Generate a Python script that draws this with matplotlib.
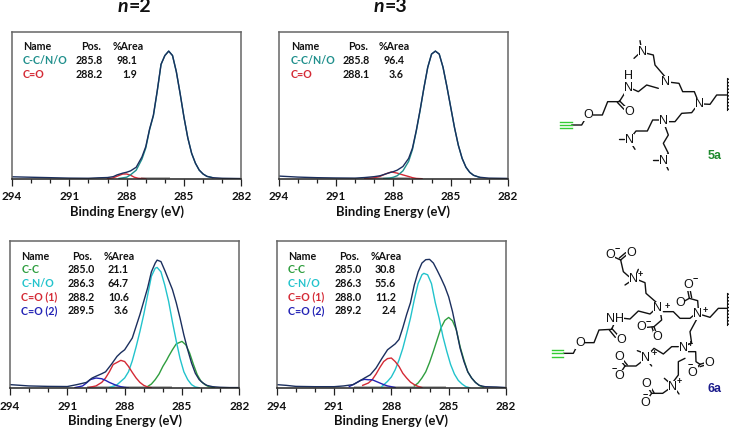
import matplotlib
matplotlib.use("Agg")
import matplotlib.pyplot as plt

plt.rcParams['font.family'] = ['Lato', 'DejaVu Sans']

W, H = 729, 429
GREEN, CYAN, RED, BLUE, TEAL = '#2f9e3f', '#22c3cc', '#d42a35', '#2323b5', '#1f8f8c'
TOTAL = '#1b2f5e'
GREY = '#b4b4b4'

# ---- n=2, top panel ----
a_total_x = [294,293,292,291,290,289.5,289,288.7,288.5,288.2,288,287.8,287.5,287.2,287,286.8,286.6,286.4,286.2,286,285.8,285.6,285.4,285.2,285,284.8,284.6,284.4,284.2,284,283.8,283.5,283,282.5,282]
a_total_y = [1.5,1.2,0.9,0.6,0.5,0.8,1,1.6,2.8,4,4.6,5.5,8,15,22,34,43.5,60,78,84,87,84,73,58,42,28,17.5,10.7,6,3.4,1.8,0.9,0.5,0.4,0.3]
a_main_x = [288.4,288,287.8,287.5,287.2,287,286.8,286.6,286.4,286.2,286,285.8,285.6,285.4,285.2,285,284.8,284.6,284.4,284.2,284,283.8,283.5]
a_main_y = [0.4,1.2,2.8,6,13.5,21,33.5,43,59.5,78,84,87,84,73,58,42,28,17.5,10.7,6,3.4,1.8,0.9]
a_co_x = [289,288.7,288.4,288.2,288,287.8,287.6,287.4,287]
a_co_y = [0.2,0.8,2.4,3.4,3.4,2.6,1.2,0.5,0.2]

# ---- n=3, top panel ----
b_total_x = [294,293,292,291,290,289.5,289,288.7,288.5,288.2,288,287.8,287.5,287.2,287,286.8,286.6,286.4,286.2,286,285.8,285.6,285.4,285.2,285,284.8,284.6,284.4,284.2,284,283.8,283.5,283,282.5,282]
b_total_y = [2,1.3,0.9,0.7,0.6,1,1.6,2.2,3,4.3,5,6,8.5,14,21,33,47,62,76,85,87,85,76,63,49,35,23,14,8,4.5,2.5,1.2,0.6,0.5,0.4]
b_main_x = [288.5,288.2,288,287.8,287.5,287.2,287,286.8,286.6,286.4,286.2,286,285.8,285.6,285.4,285.2,285,284.8,284.6,284.4,284.2,284,283.8,283.5]
b_main_y = [0.3,0.6,1.2,2.2,5.5,12,20,32.5,46.5,62,76,85,87,85,76,63,49,35,23,14,8,4.5,2.5,1.2]
b_co_x = [289.5,289,288.7,288.4,288.1,287.8,287.5,287.2,287,286.8,286.5]
b_co_y = [0.2,0.8,1.8,3.5,4.8,4,2.8,1.7,0.9,0.4,0.2]

# ---- n=2, bottom panel ----
c_total_x = [294,293,292,291,290.5,290,289.7,289.5,289.2,289,288.7,288.4,288.2,288,287.8,287.6,287.4,287.2,287,286.8,286.6,286.4,286.3,286.1,285.9,285.7,285.5,285.3,285.1,284.9,284.7,284.5,284.3,284.1,283.9,283.7,283.4,283,282.5,282]
c_total_y = [2.3,1.4,1.1,1,2.3,3.8,6.8,8,9.7,11,16,21.5,24,26,30,34,42,50,59,68,79,85,87,86,80,73.5,67,58,47.5,36,26,17,10,5.7,3.4,1.8,0.9,0.5,0.3,0.3]
c_cn_x = [288.8,288.4,288,287.8,287.6,287.4,287.2,287,286.8,286.6,286.4,286.3,286.1,285.9,285.7,285.5,285.3,285.1,284.9,284.7,284.5,284.3,284.1]
c_cn_y = [0.3,2.2,6.8,11,18.5,28,38.5,50,63,76,81.5,82,79,70,59,45,32,20,11,5.7,2.3,0.7,0.2]
c_cc_x = [286.8,286.6,286.4,286.2,286,285.8,285.7,285.5,285.3,285,284.8,284.6,284.4,284.2,284,283.8,283.6,283.3]
c_cc_y = [1,2.7,5.7,9.5,14.7,19,21.5,26,30,31.7,29.4,23.8,16,9,4.5,2.3,0.9,0.2]
c_co1_x = [289.9,289.5,289.2,289,288.8,288.6,288.4,288.2,288,287.8,287.6,287.4,287.2,287,286.8,286.6]
c_co1_y = [0.3,1.4,3.8,6.8,11,16,17.4,18.8,18,14.7,10.6,6.8,3.8,1.8,0.7,0.2]
c_co2_x = [290.6,290.2,290,289.8,289.5,289.2,289,288.8,288.6,288.4,288.2,288,287.8]
c_co2_y = [0.3,1.4,3.4,5.7,6.8,6.3,5.2,3.8,2.7,1.6,0.9,0.4,0.1]

# ---- n=3, bottom panel ----
d_total_x = [294,293.5,293,292,291,290.5,290,289.7,289.4,289.1,288.8,288.5,288.2,288,287.8,287.6,287.4,287.2,287,286.8,286.6,286.4,286.2,286,285.8,285.6,285.4,285.2,285,284.8,284.6,284.4,284.2,284,283.8,283.6,283.4,283.1,282.5,282]
d_total_y = [2.3,1.8,1.1,0.9,0.9,1.4,2.3,4.5,6.8,9,13.6,20,26,28,30,33,41,50,58,70,79,85,87.3,87.5,85,80,74.7,69,62,52,39.6,27,18,11,6.8,3.8,1.8,0.9,0.7,0.3]
d_cn_x = [288.5,288.2,288,287.8,287.6,287.4,287.2,287,286.8,286.6,286.4,286.3,286.1,285.9,285.7,285.5,285.3,285.1,284.9,284.7,284.5,284.3,284.1,283.9]
d_cn_y = [1,4.5,7.5,12.4,19,27,37,47.5,60,71,77,78,77,71,58,47.5,35,25,16,9.5,5.2,2.7,0.9,0.2]
d_cc_x = [286.8,286.6,286.4,286.2,286,285.8,285.6,285.4,285.2,285,284.8,284.6,284.4,284.2,284,283.8,283.6,283.4,283.2]
d_cc_y = [1.4,3.4,6.8,11,17.4,25,33,41,46,48,45.7,39.6,28,19,11,6.8,3.8,1.8,0.6]
d_co1_x = [289.5,289.2,289,288.8,288.6,288.4,288.2,288,287.8,287.6,287.4,287.2,287,286.8,286.6,286.4]
d_co1_y = [1.8,3.4,5.7,9.5,14,18,20,20.4,18,14.7,10,6.8,4,2.3,1.1,0.3]
d_co2_x = [290.2,289.9,289.6,289.4,289.2,289,288.8,288.6,288.4,288.2,288,287.8]
d_co2_y = [1,3,5.2,5.9,5.6,5.6,4.5,3.4,2.3,1.4,0.9,0.3]

# ---- tables ----
top_names = ['C-C/N/O', 'C=O']
top_colors = [TEAL, RED]
a_pos = ['285.8', '288.2']
a_area = ['98.1', '1.9']
b_pos = ['285.8', '288.1']
b_area = ['96.4', '3.6']
bot_names = ['C-C', 'C-N/O', 'C=O (1)', 'C=O (2)']
bot_colors = [GREEN, CYAN, RED, BLUE]
c_pos = ['285.0', '286.3', '288.2', '289.5']
c_area = ['21.1', '64.7', '10.6', '3.6']
d_pos = ['285.0', '286.3', '288.0', '289.2']
d_area = ['30.8', '55.6', '11.2', '2.4']
x_major = [294, 291, 288, 285, 282]
x_minor = [293, 292, 290, 289, 287, 286, 284, 283]

fig = plt.figure(figsize=(W / 100, H / 100), dpi=100, facecolor='white')
PW, PH = 229.3, 147.0


def panel(left, top, curves, grey, names, colors, pos, area, layout):
    ax = fig.add_axes([left / W, 1 - (top + PH) / H, PW / W, PH / H])
    for x, y, c in curves:
        ax.plot(x, y, color=c, lw=1.0, solid_joinstyle='round')
    ax.plot(grey, [0.5, 0.5], color=GREY, lw=1.4, zorder=1.5)
    ax.set_xlim(294, 282)
    ax.set_ylim(0, 100)
    ax.set_yticks([])
    ax.set_xticks(x_major)
    ax.set_xticks(x_minor, minor=True)
    ax.tick_params(axis='x', which='major', length=5, width=0.9, color='#222222', pad=4.0, labelsize=8.4)
    ax.tick_params(axis='x', which='minor', length=3, width=0.9, color='#222222')
    for t in ax.get_xticklabels():
        t.set_fontweight('bold')
        t.set_color('#111111')
    ax.set_xlabel('Binding Energy (eV)', fontsize=9.4, fontweight='bold', color='#111111', va='center')
    ax.xaxis.set_label_coords(0.5, -33 / PH)
    for s in ax.spines.values():
        s.set_color('#666666')
        s.set_linewidth(1.1)
    ax.spines['bottom'].set_color('#222222')

    nx, pc, pr, ac, ar, y0, dy = layout
    def put(px, py, s, color='#111111', ha='left'):
        ax.text(px / PW, 1 - py / PH, s, transform=ax.transAxes, fontsize=7.7, fontweight='bold',
                color=color, ha=ha, va='center')
    put(nx, y0, 'Name')
    put(pc, y0, 'Pos.', ha='center')
    put(ac, y0, '%Area', ha='center')
    for i in range(len(names)):
        yy = y0 + (i + 1) * dy
        put(nx, yy, names[i], colors[i])
        put(pr, yy, pos[i], ha='right')
        put(ar, yy, area[i], ha='right')
    return ax


panel(12, 32, [(a_co_x, a_co_y, RED), (a_main_x, a_main_y, TEAL), (a_total_x, a_total_y, TOTAL)],
      [287.2, 285.8], top_names, top_colors, a_pos, a_area, (11, 79, 91, 116, 125, 14.6, 13.8))
panel(278.7, 32, [(b_co_x, b_co_y, RED), (b_main_x, b_main_y, TEAL), (b_total_x, b_total_y, TOTAL)],
      [289.4, 287.2], top_names, top_colors, b_pos, b_area, (12, 79.3, 91.3, 115.3, 125.3, 14.6, 13.8))
panel(10, 241, [(c_cc_x, c_cc_y, GREEN), (c_cn_x, c_cn_y, CYAN), (c_co1_x, c_co1_y, RED), (c_co2_x, c_co2_y, BLUE), (c_total_x, c_total_y, TOTAL)],
      [289.9, 285.6], bot_names, bot_colors, c_pos, c_area, (11.3, 72, 84.7, 109, 119, 15, 13.7))
panel(276.7, 241, [(d_cc_x, d_cc_y, GREEN), (d_cn_x, d_cn_y, CYAN), (d_co1_x, d_co1_y, RED), (d_co2_x, d_co2_y, BLUE), (d_total_x, d_total_y, TOTAL)],
      [289.9, 285.2], bot_names, bot_colors, d_pos, d_area, (11.3, 72.3, 85.3, 109.3, 119.3, 15, 13.7))

# ---- overlay for titles and the two chemical structures (figure pixels) ----
ov = fig.add_axes([0, 0, 1, 1], zorder=10)
ov.set_xlim(0, W)
ov.set_ylim(H, 0)
ov.axis('off')
ov.patch.set_alpha(0)

for cx, lab in [(133, '=2'), (389, '=3')]:
    ov.text(cx - 5, 7, 'n', fontsize=14, fontweight='bold', fontstyle='italic', ha='right', va='center', color='#111111')
    ov.text(cx - 4.5, 7, lab, fontsize=14, fontweight='bold', ha='left', va='center', color='#111111')

BONDS_5A = [
    [(125,315),(155,315),(165,298)], [(187,285),(217,285),(233,245),(268,245),(285,218)],
    [(268,242),(288,262)], [(262,247),(282,268)],
    [(295,190),(295,178)],
    [(310,208),(325,215),(350,195),(385,205)],
    [(405,170),(375,135),(370,105),(350,100)], [(333,80),(330,62)], [(325,103),(312,115)],
    [(422,187),(447,190),(458,215),(493,215),(503,240)],
    [(520,252),(540,253),(560,225),(590,225)],
    [(495,265),(485,278),(455,280),(435,305),(415,305)],
    [(390,300),(368,300),(352,333),(318,333),(305,350)],
    [(282,357),(268,357)], [(305,372),(315,388)],
    [(405,318),(415,345),(400,370),(415,400),(405,410)],
    [(390,420),(368,420)], [(408,435),(415,450)],
]
ATOMS_5A = [('O',175,285),('N',295,205),('H',295,168),('O',298,277),('N',408,187),('N',338,95),
            ('N',508,252),('N',402,303),('N',298,360),('N',402,422)]
BONDS_6A = [
    [(100,370),(130,370),(140,350)], [(162,338),(192,338),(207,300),(245,298),(252,282)],
    [(245,295),(263,315)], [(238,300),(256,322)],
    [(282,265),(300,267),(325,243),(360,252),(373,240)],
    [(380,218),(348,190),(345,158),(325,150)],
    [(320,130),(325,118)], [(300,155),(285,165)],
    [(297,140),(280,125),(272,90)], [(272,90),(293,72)], [(268,84),(287,68)], [(272,90),(250,80)],
    [(392,250),(395,270),(372,290)], [(372,290),(352,292)], [(372,290),(380,312)], [(366,292),(373,314)],
    [(400,245),(430,245),(450,265),(480,265),(492,255)],
    [(517,255),(540,262),(565,235),(590,235)],
    [(505,237),(503,212),(478,205)], [(478,205),(473,180)], [(485,203),(480,178)], [(478,205),(460,215)],
    [(500,268),(480,305),(485,340),(470,345)],
    [(445,350),(425,350),(400,372),(372,355),(358,370)],
    [(338,368),(322,362)], [(355,395),(365,408)],
    [(335,395),(318,408),(285,408)], [(285,408),(272,392)], [(292,405),(278,388)], [(285,408),(272,428)],
    [(475,365),(497,365),(498,395),(510,403)], [(510,403),(526,398)], [(510,410),(526,405)], [(510,403),(497,418)],
    [(465,385),(445,395),(445,435),(430,455)],
    [(418,458),(403,445)], [(440,482),(447,492)],
    [(415,478),(398,490),(365,490)], [(365,490),(355,474)], [(372,488),(361,470)], [(365,490),(352,508)],
]
ATOMS_6A = [('O',150,338),('NH',255,267),('O',275,330),('N',383,235),('N',312,148),('O',303,68),('O',240,75),
            ('O',335,292),('O',383,322),('N',503,252),('O',475,165),('O',450,218),('N',460,355),('N',348,383),
            ('O',268,380),('O',268,438),('O',538,400),('O',488,428),('N',428,472),('O',350,462),('O',345,518)]
CHARGES_6A = [('+',413,230),('+',332,133),('+',526,241),('+',482,343),('+',372,370),('+',449,455),
              ('−',263,52),('−',497,143),('−',355,272),('−',252,412),('−',481,401),('−',345,490)]


def draw_structure(x0, y0, bonds, atoms, alkyne):
    to_fig = lambda p: (x0 + p[0] / 3, y0 + p[1] / 3)
    for b in bonds:
        pts = [to_fig(p) for p in b]
        ov.plot([p[0] for p in pts], [p[1] for p in pts], color='#111111', lw=1.0, solid_capstyle='round')
    for a, ax_, ay_ in atoms:
        px, py = to_fig((ax_, ay_))
        ov.text(px, py, a, fontsize=9, family='Liberation Sans', ha='center', va='center', color='#111111',
                bbox=dict(boxstyle='square,pad=0.02', fc='white', ec='none'))
    for xa, xb, ya in alkyne:
        p, q = to_fig((xa, ya)), to_fig((xb, ya))
        ov.plot([p[0], q[0]], [p[1], q[1]], color='#33cc33', lw=1.0)


draw_structure(530, 20, BONDS_5A, ATOMS_5A, [(90,125,305),(90,125,315),(90,125,325)])
draw_structure(530, 230, BONDS_6A, ATOMS_6A, [(65,100,360),(65,100,370),(65,100,380)])
for s, zx, zy in CHARGES_6A:
    ov.text(530 + zx / 3, 230 + zy / 3, s, fontsize=6.5, family='Liberation Sans', fontweight='bold', ha='center', va='center', color='#111111')
for x, y0_, y1_ in [(727, 78, 110), (726.7, 293, 325)]:
    ov.plot([x, x], [y0_, y1_], color='#111111', lw=0.8)
    ov.plot([x + 1, x + 1], [y0_, y1_], color='#111111', lw=2, ls=(0, (0.5, 0.7)))
ov.text(715, 156, '5a', fontsize=9, fontweight='bold', family='Liberation Sans', color='#1f8a2e', ha='center', va='center')
ov.text(715, 389, '6a', fontsize=9, fontweight='bold', family='Liberation Sans', color='#1c1c8c', ha='center', va='center')

fig.savefig('out.png', dpi=100)
